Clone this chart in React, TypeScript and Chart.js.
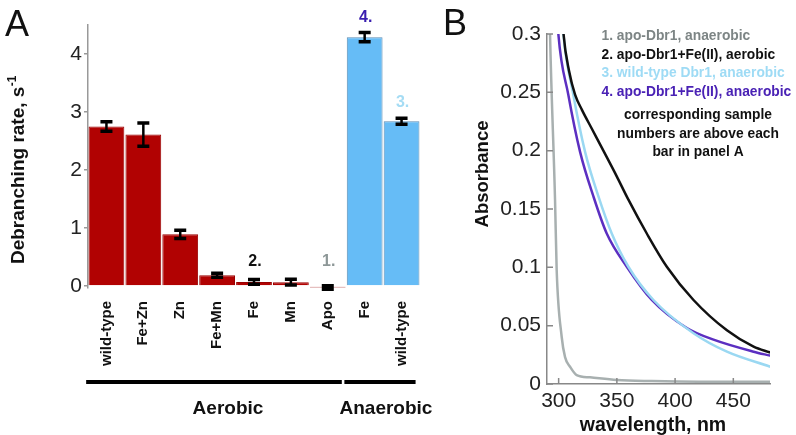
import React, { useEffect, useRef } from "react";
import { Chart, registerables } from "chart.js";

Chart.register(...registerables);

const FONT = "'Liberation Sans', Arial, Helvetica, sans-serif";

// ---------- Panel A data ----------
const categories = ["wild-type", "Fe+Zn", "Zn", "Fe+Mn", "Fe", "Mn", "Apo", "Fe", "wild-type"];
const rates = [2.75, 2.61, 0.89, 0.186, 0.07, 0.065, -0.025, 4.29, 2.84];
const rateErrors = [0.08, 0.2, 0.07, 0.035, 0.04, 0.05, 0.03, 0.08, 0.05];
const barCondition = ["aerobic", "aerobic", "aerobic", "aerobic", "aerobic", "aerobic", "aerobic", "anaerobic", "anaerobic"];
const sampleNumbers = ["", "", "", "", "2.", "", "1.", "4.", "3."];
const sampleNumberColors = ["", "", "", "", "#111111", "", "#8d9797", "#3a1eb0", "#a5dcf4"];
const groupNames = ["Aerobic", "Anaerobic"];
const groupFirstBar = [0, 7];
const groupLastBar = [6, 8];
const rateTicks = [0, 1, 2, 3, 4];

// ---------- Panel B data ----------
const wlApo = [291.5, 292.6, 296.9, 298.3, 302.6, 305.5, 309.8, 315.5, 327, 350, 380, 420, 450, 481.7];
const absApo = [0.36, 0.3, 0.158, 0.098, 0.0405, 0.023, 0.0148, 0.0077, 0.0057, 0.0034, 0.0025, 0.002, 0.002, 0.002];
const wlFeAerobic = [301.8, 304.2, 309, 314.1, 320, 328.4, 338.4, 349.9, 359.9, 375.7, 392.9, 415.8, 444.5, 467.4, 481.7];
const absFeAerobic = [0.34, 0.3, 0.268, 0.248, 0.235, 0.219, 0.2, 0.178, 0.158, 0.129, 0.1005, 0.072, 0.046, 0.032, 0.027];
const wlWildType = [301.5, 304, 312.6, 322.7, 334.1, 345.6, 359.9, 381.4, 415.8, 444.5, 481.7];
const absWildType = [0.34, 0.3006, 0.248, 0.199, 0.161, 0.129, 0.1005, 0.072, 0.0435, 0.0277, 0.0148];
const wlFeAnaerobic = [297.5, 299.7, 308.3, 318.4, 329.8, 341.3, 358.5, 380, 410.1, 433, 467.4, 481.7];
const absFeAnaerobic = [0.34, 0.3006, 0.248, 0.199, 0.161, 0.129, 0.1005, 0.072, 0.048, 0.038, 0.0277, 0.0243];
const absorbanceTicks = [0, 0.05, 0.1, 0.15, 0.2, 0.25, 0.3];
const wavelengthTicks = [300, 350, 400, 450];
const legendLabels = [
  "1. apo-Dbr1, anaerobic",
  "2. apo-Dbr1+Fe(II), aerobic",
  "3. wild-type Dbr1, anaerobic",
  "4. apo-Dbr1+Fe(II), anaerobic",
];
const legendColors = ["#7d8585", "#111111", "#9edbf5", "#4a22b5"];
const noteLines = ["corresponding sample", "numbers are above each", "bar in panel A"];

const RED = "#b10202";
const RED_BORDER = "#990000";
const BLUE = "#66bcf6";
const BLUE_BORDER = "#5b8db5";

const panelAPlugin = {
  id: "panelADecor",
  afterDatasetsDraw(chart: any) {
    const ctx = chart.ctx;
    const y = chart.scales.y;
    const meta = chart.getDatasetMeta(0);
    ctx.save();
    ctx.strokeStyle = "#000";
    meta.data.forEach((bar: any, i: number) => {
      const x = bar.x;
      const top = y.getPixelForValue(rates[i] + rateErrors[i]);
      const bot = y.getPixelForValue(rates[i] - rateErrors[i]);
      ctx.lineWidth = 2.5;
      ctx.beginPath();
      ctx.moveTo(x, top);
      ctx.lineTo(x, bot);
      ctx.stroke();
      ctx.lineWidth = 3.5;
      ctx.beginPath();
      ctx.moveTo(x - 6, top);
      ctx.lineTo(x + 6, top);
      ctx.moveTo(x - 6, bot);
      ctx.lineTo(x + 6, bot);
      ctx.stroke();
      if (sampleNumbers[i]) {
        const hi = Math.max(rates[i] + rateErrors[i], 0.15);
        ctx.fillStyle = sampleNumberColors[i];
        ctx.font = `bold 16px ${FONT}`;
        ctx.textAlign = "center";
        ctx.textBaseline = "alphabetic";
        ctx.fillText(sampleNumbers[i], x + 1, y.getPixelForValue(hi) - 11);
      }
    });
    ctx.restore();
  },
  afterDraw(chart: any) {
    const ctx = chart.ctx;
    const xs = chart.scales.x;
    const area = chart.chartArea;
    const catW = (area.right - area.left) / categories.length;
    const shifts = [14, 6];
    ctx.save();
    groupNames.forEach((name, g) => {
      const x0 = xs.getPixelForValue(groupFirstBar[g]) - 0.55 * catW;
      const x1 = xs.getPixelForValue(groupLastBar[g]) + 0.38 * catW;
      const ly = area.bottom + 94;
      ctx.fillStyle = "#000";
      ctx.fillRect(x0, ly - 2, x1 - x0, 4);
      ctx.font = `bold 19px ${FONT}`;
      ctx.textAlign = "center";
      ctx.textBaseline = "alphabetic";
      ctx.fillStyle = "#111";
      ctx.fillText(name, (x0 + x1) / 2 + shifts[g], area.bottom + 125.5);
    });
    const main = "Debranching rate, s";
    const sup = "-1";
    ctx.translate(17, 170);
    ctx.rotate(-Math.PI / 2);
    ctx.font = `bold 19px ${FONT}`;
    const w1 = ctx.measureText(main).width;
    ctx.font = `bold 12px ${FONT}`;
    const w2 = ctx.measureText(sup).width;
    const start = -(w1 + w2) / 2;
    ctx.textAlign = "left";
    ctx.textBaseline = "alphabetic";
    ctx.fillStyle = "#111";
    ctx.font = `bold 19px ${FONT}`;
    ctx.fillText(main, start, 7);
    ctx.font = `bold 12px ${FONT}`;
    ctx.fillText(sup, start + w1 + 0.5, -1);
    ctx.restore();
    ctx.save();
    ctx.font = `36px ${FONT}`;
    ctx.fillStyle = "#111";
    ctx.textAlign = "left";
    ctx.textBaseline = "alphabetic";
    ctx.fillText("A", 5, 36);
    ctx.restore();
  },
};

const panelBPlugin = {
  id: "panelBDecor",
  afterDraw(chart: any) {
    const ctx = chart.ctx;
    const xs = chart.scales.x;
    const ys = chart.scales.y;
    const area = chart.chartArea;
    ctx.save();
    ctx.strokeStyle = "#888";
    ctx.lineWidth = 1.5;
    ctx.beginPath();
    absorbanceTicks.forEach((v) => {
      const py = ys.getPixelForValue(v);
      ctx.moveTo(area.left, py);
      ctx.lineTo(area.left + 6, py);
    });
    wavelengthTicks.forEach((v) => {
      const px = xs.getPixelForValue(v);
      ctx.moveTo(px, area.bottom);
      ctx.lineTo(px, area.bottom - 6);
    });
    ctx.stroke();
    ctx.font = `bold 13.8px ${FONT}`;
    ctx.textAlign = "left";
    ctx.textBaseline = "alphabetic";
    legendLabels.forEach((t, i) => {
      ctx.fillStyle = legendColors[i];
      ctx.fillText(t, 161.5, 40 + i * 18.6);
    });
    ctx.fillStyle = "#111";
    ctx.textAlign = "center";
    noteLines.forEach((t, i) => {
      ctx.fillText(t, 258, 119 + i * 18.5);
    });
    ctx.font = `bold 19.5px ${FONT}`;
    ctx.fillText("wavelength, nm", 213, 431);
    ctx.translate(43, 174);
    ctx.rotate(-Math.PI / 2);
    ctx.font = `bold 18.5px ${FONT}`;
    ctx.textBaseline = "middle";
    ctx.fillText("Absorbance", 0, 0);
    ctx.restore();
    ctx.save();
    ctx.font = `36px ${FONT}`;
    ctx.fillStyle = "#111";
    ctx.textAlign = "left";
    ctx.textBaseline = "alphabetic";
    ctx.fillText("B", 3, 34.5);
    ctx.restore();
  },
};

function toPoints(xs: number[], ys: number[]) {
  return xs.map((x, i) => ({ x, y: ys[i] }));
}

export default function App() {
  const refA = useRef<HTMLCanvasElement>(null);
  const refB = useRef<HTMLCanvasElement>(null);

  useEffect(() => {
    const chartA = new Chart(refA.current as HTMLCanvasElement, {
      type: "bar",
      data: {
        labels: categories,
        datasets: [
          {
            data: rates,
            backgroundColor: barCondition.map((c) => (c === "aerobic" ? RED : BLUE)),
            borderColor: barCondition.map((c) => (c === "aerobic" ? RED_BORDER : BLUE_BORDER)),
            borderWidth: 1,
            barPercentage: 1,
            categoryPercentage: 0.97,
          },
        ],
      },
      options: {
        responsive: false,
        animation: false,
        devicePixelRatio: 1,
        layout: { padding: { top: 25, right: 20, left: 0, bottom: 0 } },
        plugins: { legend: { display: false }, tooltip: { enabled: false } },
        scales: {
          x: {
            grid: { display: false },
            border: { display: false },
            ticks: {
              autoSkip: false,
              maxRotation: 90,
              minRotation: 90,
              padding: 5,
              color: "#111",
              font: { family: FONT, size: 15, weight: "bold" },
            },
            afterFit(s: any) {
              s.height = 147;
            },
          },
          y: {
            min: -0.035,
            max: 4.5,
            afterBuildTicks(s: any) {
              s.ticks = rateTicks.map((v) => ({ value: v }));
            },
            ticks: { padding: 2, color: "#222", font: { family: FONT, size: 21 } },
            grid: { drawOnChartArea: false, drawTicks: true, tickLength: 4, color: "#999", lineWidth: 1.5 },
            border: { color: "#999", width: 1.5 },
            afterFit(s: any) {
              s.width = 88;
            },
          },
        },
      } as any,
      plugins: [panelAPlugin],
    });

    const lineDs = (pts: any[], color: string) => ({
      data: pts,
      borderColor: color,
      borderWidth: 2.5,
      pointRadius: 0,
      fill: false,
      cubicInterpolationMode: "monotone" as const,
    });

    const chartB = new Chart(refB.current as HTMLCanvasElement, {
      type: "line",
      data: {
        datasets: [
          lineDs(toPoints(wlApo, absApo), "#a8b0b0"),
          lineDs(toPoints(wlFeAerobic, absFeAerobic), "#111111"),
          lineDs(toPoints(wlWildType, absWildType), "#9ad8f2"),
          lineDs(toPoints(wlFeAnaerobic, absFeAnaerobic), "#5b2fc1"),
        ],
      },
      options: {
        responsive: false,
        animation: false,
        devicePixelRatio: 1,
        layout: { padding: { top: 34, right: 26, left: 0, bottom: 0 } },
        plugins: { legend: { display: false }, tooltip: { enabled: false } },
        scales: {
          x: {
            type: "linear",
            min: 290,
            max: 481.5,
            afterBuildTicks(s: any) {
              s.ticks = wavelengthTicks.map((v) => ({ value: v }));
            },
            ticks: { padding: 5, color: "#222", font: { family: FONT, size: 21 } },
            grid: { display: false, drawTicks: false },
            border: { color: "#888", width: 1.5 },
            afterFit(s: any) {
              s.height = 51;
            },
          },
          y: {
            min: 0,
            max: 0.3,
            afterBuildTicks(s: any) {
              s.ticks = absorbanceTicks.map((v) => ({ value: v }));
            },
            ticks: {
              padding: 6,
              color: "#222",
              font: { family: FONT, size: 21 },
              callback: (v: any) => String(+Number(v).toFixed(2)),
            },
            grid: { display: false, drawTicks: false },
            border: { color: "#888", width: 1.5 },
            afterFit(s: any) {
              s.width = 107;
            },
          },
        },
      } as any,
      plugins: [panelBPlugin],
    });

    return () => {
      chartA.destroy();
      chartB.destroy();
    };
  }, []);

  return (
    <div style={{ position: "fixed", left: 0, top: 0, width: 796, height: 435, background: "#fff", overflow: "hidden" }}>
      <canvas ref={refA} width={440} height={435} style={{ position: "absolute", left: 0, top: 0 }} />
      <canvas ref={refB} width={356} height={435} style={{ position: "absolute", left: 440, top: 0 }} />
    </div>
  );
}
